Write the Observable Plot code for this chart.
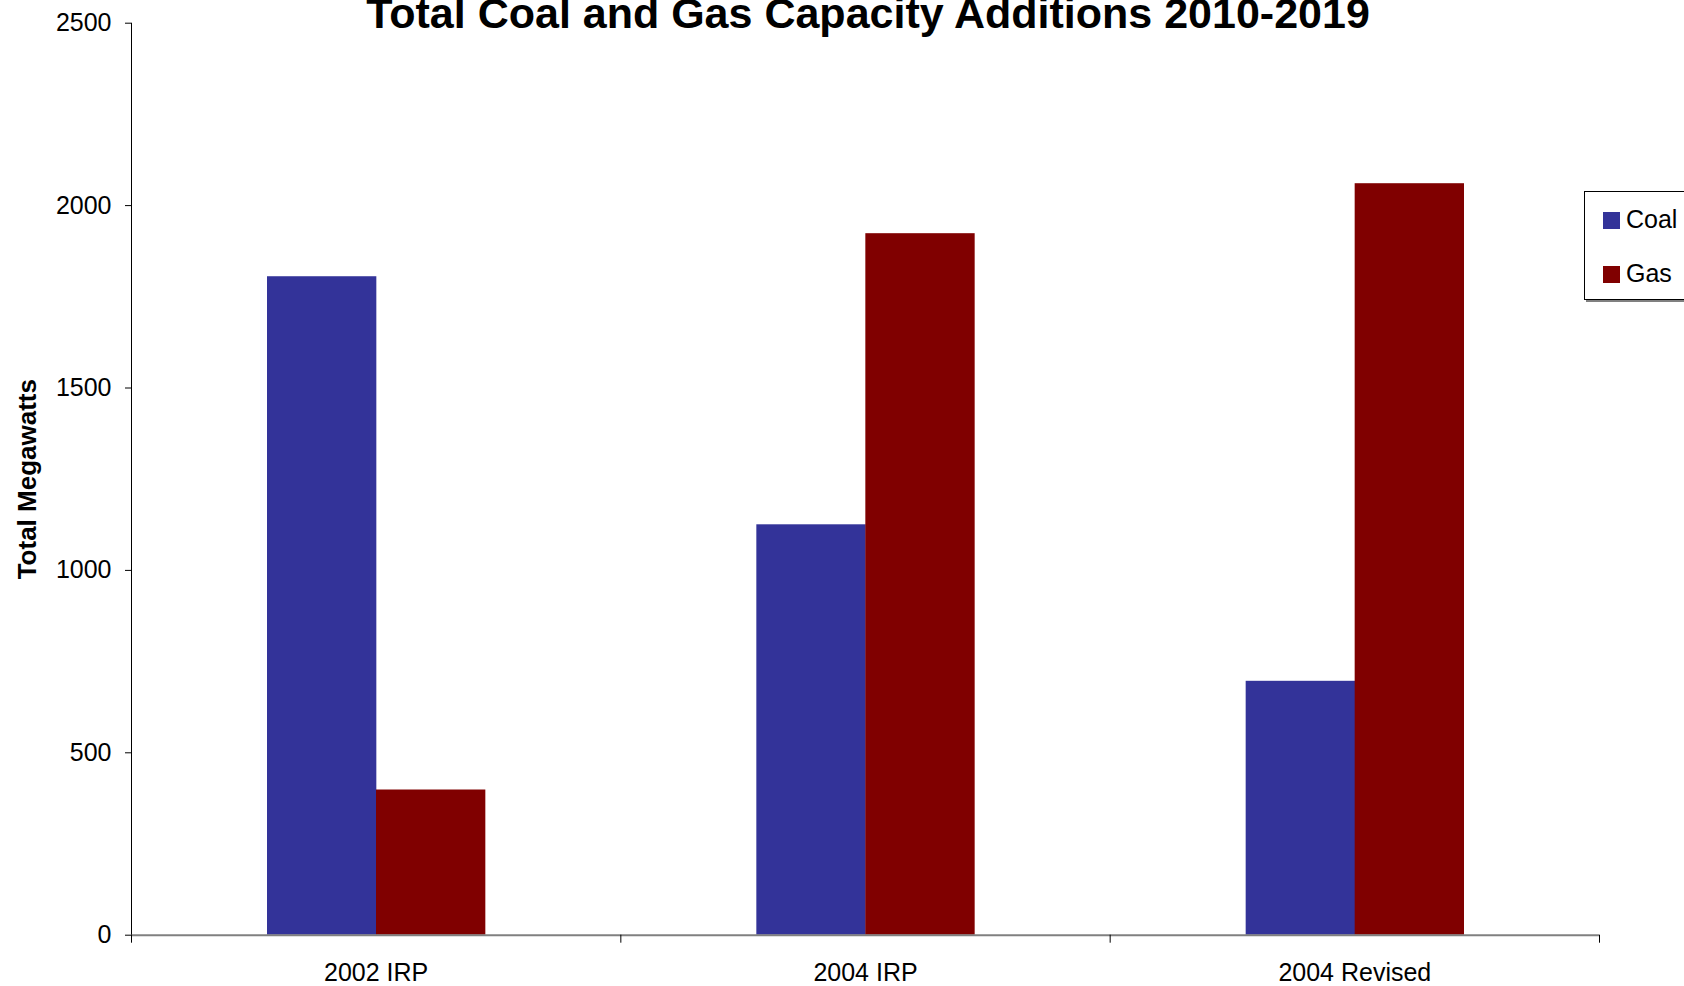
<!DOCTYPE html>
<html>
<head>
<meta charset="utf-8">
<script src="https://cdn.jsdelivr.net/npm/d3@7"></script>
<script src="https://cdn.jsdelivr.net/npm/@observablehq/plot@0.6"></script>
<style>
  html, body { margin: 0; padding: 0; background: #fff; }
  body { width: 1684px; height: 986px; overflow: hidden; position: relative;
         font-family: Arial, "Liberation Sans", Helvetica, sans-serif; }
  #chart { position: absolute; left: 0; top: 0; }
  #legend { position: absolute; left: 1584px; top: 191px; width: 140px; height: 107px;
            border: 1px solid #000; box-shadow: 2px 2px 0 #808080; background: #fff; }
  .sw { position: absolute; left: 18px; width: 17px; height: 17px; }
  .lt { position: absolute; left: 41px; font-size: 25px; line-height: 25px; color: #000; white-space: nowrap; }
</style>
</head>
<body>
<div id="chart"></div>
<div id="legend"></div>
<script>
const title = "Total Coal and Gas Capacity Additions 2010-2019";
const yTitle = "Total Megawatts";
const categories = ["2002 IRP", "2004 IRP", "2004 Revised"];
const series = ["Coal", "Gas"];
const coal = [1805, 1125, 696];
const gas = [398, 1923, 2060];
const yTicks = [0, 500, 1000, 1500, 2000, 2500];
const colors = ["#333399", "#800000"];

const rows = categories.flatMap((c, i) => [
  {category: c, i, series: "Coal", value: coal[i]},
  {category: c, i, series: "Gas", value: gas[i]}
]);
const coalRows = rows.filter(d => d.series === "Coal");
const gasRows = rows.filter(d => d.series === "Gas");
const boundaries = d3.range(categories.length + 1);
const centers = categories.map((c, i) => i + 0.5);

const chart = Plot.plot({
  width: 1684,
  height: 986,
  marginLeft: 131,
  marginRight: 85,
  marginTop: 22.7,
  marginBottom: 51.3,
  style: {fontFamily: "Arial, 'Liberation Sans', sans-serif", color: "#000", background: "#fff", overflow: "visible"},
  x: {domain: [0, categories.length], axis: null},
  y: {domain: [0, 2500], axis: null},
  marks: [
    Plot.rectY(coalRows, {x1: "i", x2: d => d.i + 1, y1: 0, y2: "value", fill: colors[0], insetLeft: 136, insetRight: 244}),
    Plot.rectY(gasRows, {x1: "i", x2: d => d.i + 1, y1: 0, y2: "value", fill: colors[1], insetLeft: 245, insetRight: 135}),
    Plot.ruleY([0], {stroke: "#808080", strokeWidth: 2}),
    Plot.axisX({ticks: boundaries, tickSize: 8, tickFormat: () => "", stroke: "#000", label: null}),
    Plot.axisX({ticks: centers, tickSize: 0, tickPadding: 28, fontSize: 25, tickFormat: v => categories[Math.floor(v)], label: null}),
    Plot.ruleX([0], {y1: 0, y2: 2500, stroke: "#000"}),
    Plot.axisY({ticks: yTicks, tickSize: 6, tickPadding: 14, fontSize: 25, label: null, tickFormat: d => String(d)}),
    Plot.text([yTitle], {frameAnchor: "left", textAnchor: "middle", lineAnchor: "middle", rotate: -90, dx: -104, dy: 0, fontWeight: "bold", fontSize: 26}),
    Plot.text([title], {frameAnchor: "top", textAnchor: "middle", lineAnchor: "bottom", dy: 4.3, dx: 2.5, fontWeight: "bold", fontSize: 43})
  ]
});
document.getElementById("chart").appendChild(chart);

const legend = document.getElementById("legend");
series.forEach((s, k) => {
  const top = [20, 74][k];
  const sw = document.createElement("div");
  sw.className = "sw";
  sw.style.top = top + "px";
  sw.style.background = colors[k];
  legend.appendChild(sw);
  const t = document.createElement("div");
  t.className = "lt";
  t.style.top = (top - 5) + "px";
  t.textContent = s;
  legend.appendChild(t);
});
</script>
</body>
</html>
